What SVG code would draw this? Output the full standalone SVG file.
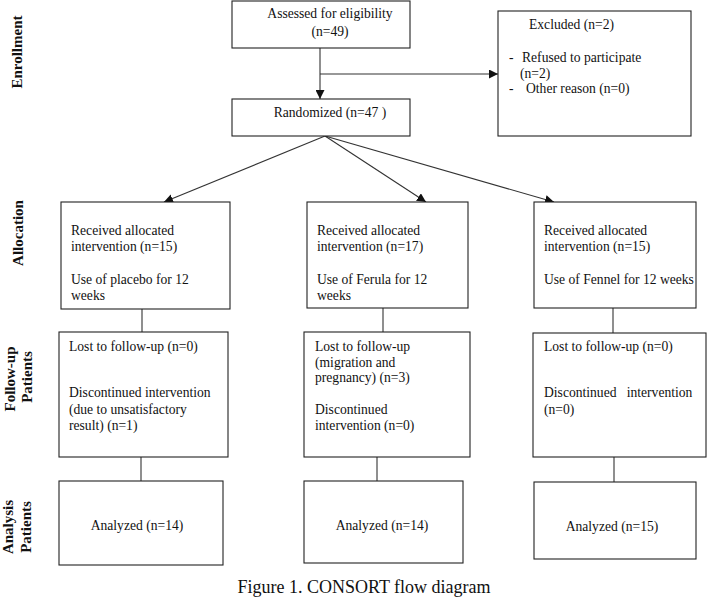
<svg xmlns="http://www.w3.org/2000/svg" width="708" height="598" viewBox="0 0 708 598">
<style>
.box{fill:#fff;stroke:#222;stroke-width:1.1}
.t{font-family:"Liberation Serif","Times New Roman",serif;font-size:13.6px;fill:#111}
.side{font-family:"Liberation Serif","Times New Roman",serif;font-size:15px;font-weight:bold;fill:#111}
.ln{stroke:#333;stroke-width:1.1;fill:none}
.m{text-anchor:middle}
</style>
<defs>
<marker id="ah" viewBox="0 0 10 10" refX="10" refY="5" markerWidth="9" markerHeight="9" markerUnits="userSpaceOnUse" orient="auto">
<path d="M0,0 L10,5 L0,10 z" fill="#111"/>
</marker>
</defs>
<rect width="708" height="598" fill="#fff"/>

<g id="side-labels">
<text class="side m" transform="translate(22,52) rotate(-90)">Enrollment</text>
<text class="side m" transform="translate(23,233) rotate(-90)">Allocation</text>
<text class="side m" transform="translate(15,379) rotate(-90)">Follow-up</text>
<text class="side m" transform="translate(32,377) rotate(-90)">Patients</text>
<text class="side m" transform="translate(13,527) rotate(-90)">Analysis</text>
<text class="side m" transform="translate(31,527) rotate(-90)">Patients</text>
</g>

<g id="connectors">
<line class="ln" x1="320" y1="48" x2="320" y2="99" marker-end="url(#ah)"/>
<line class="ln" x1="320" y1="74" x2="498" y2="74" marker-end="url(#ah)"/>
<line class="ln" x1="325" y1="136" x2="164" y2="202" marker-end="url(#ah)"/>
<line class="ln" x1="325" y1="136" x2="426" y2="202" marker-end="url(#ah)"/>
<line class="ln" x1="325" y1="136" x2="554" y2="202" marker-end="url(#ah)"/>
<line class="ln" x1="142" y1="309" x2="142" y2="332"/>
<line class="ln" x1="383" y1="308" x2="383" y2="332"/>
<line class="ln" x1="613" y1="308" x2="613" y2="333"/>
<line class="ln" x1="141" y1="457" x2="141" y2="481"/>
<line class="ln" x1="377" y1="457" x2="377" y2="481"/>
<line class="ln" x1="614" y1="457" x2="614" y2="482"/>
</g>

<g id="assessed">
<rect class="box" x="232" y="1" width="178" height="47"/>
<text class="t m" x="330" y="18">Assessed for eligibility</text>
<text class="t m" x="330" y="36">(n=49)</text>
</g>

<g id="excluded">
<rect class="box" x="498" y="11" width="193" height="125"/>
<text class="t" x="529" y="29">Excluded (n=2)</text>
<text class="t" x="509" y="62">-</text>
<text class="t" x="522" y="62">Refused to participate</text>
<text class="t" x="520" y="78">(n=2)</text>
<text class="t" x="509" y="93">-</text>
<text class="t" x="526" y="93">Other reason (n=0)</text>
</g>

<g id="randomized">
<rect class="box" x="232" y="99" width="178" height="37"/>
<text class="t m" x="330" y="117">Randomized (n=47 )</text>
</g>

<g id="alloc-placebo">
<rect class="box" x="61" y="202" width="169" height="107"/>
<text class="t" x="71" y="235">Received allocated</text>
<text class="t" x="71" y="251">intervention (n=15)</text>
<text class="t" x="71" y="284">Use of placebo for 12</text>
<text class="t" x="71" y="300">weeks</text>
</g>

<g id="alloc-ferula">
<rect class="box" x="307" y="202" width="161" height="106"/>
<text class="t" x="317" y="235">Received allocated</text>
<text class="t" x="317" y="251">intervention (n=17)</text>
<text class="t" x="317" y="284">Use of Ferula for 12</text>
<text class="t" x="317" y="300">weeks</text>
</g>

<g id="alloc-fennel">
<rect class="box" x="534" y="202" width="162" height="106"/>
<text class="t" x="544" y="235">Received allocated</text>
<text class="t" x="544" y="251">intervention (n=15)</text>
<text class="t" x="544" y="284">Use of Fennel for 12 weeks</text>
</g>

<g id="followup-placebo">
<rect class="box" x="59" y="332" width="169" height="125"/>
<text class="t" x="69" y="351">Lost to follow-up (n=0)</text>
<text class="t" x="69" y="397">Discontinued intervention</text>
<text class="t" x="69" y="414">(due to unsatisfactory</text>
<text class="t" x="69" y="430">result) (n=1)</text>
</g>

<g id="followup-ferula">
<rect class="box" x="304" y="332" width="166" height="125"/>
<text class="t" x="315" y="351">Lost to follow-up</text>
<text class="t" x="315" y="367">(migration and</text>
<text class="t" x="315" y="382">pregnancy) (n=3)</text>
<text class="t" x="315" y="414">Discontinued</text>
<text class="t" x="315" y="430">intervention (n=0)</text>
</g>

<g id="followup-fennel">
<rect class="box" x="533" y="333" width="173" height="124"/>
<text class="t" x="544" y="351">Lost to follow-up (n=0)</text>
<text class="t" x="544" y="397" xml:space="preserve">Discontinued   intervention</text>
<text class="t" x="544" y="414">(n=0)</text>
</g>

<g id="analysis-placebo">
<rect class="box" x="59" y="481" width="164" height="84"/>
<text class="t m" x="137" y="530">Analyzed (n=14)</text>
</g>

<g id="analysis-ferula">
<rect class="box" x="304" y="481" width="159" height="82"/>
<text class="t m" x="382" y="530">Analyzed (n=14)</text>
</g>

<g id="analysis-fennel">
<rect class="box" x="534" y="482" width="162" height="77"/>
<text class="t m" x="612" y="531">Analyzed (n=15)</text>
</g>

<g id="caption">
<text class="m" x="364" y="593" style="font-family:'Liberation Serif','Times New Roman',serif;font-size:18px;fill:#111">Figure 1. CONSORT flow diagram</text>
</g>
</svg>
